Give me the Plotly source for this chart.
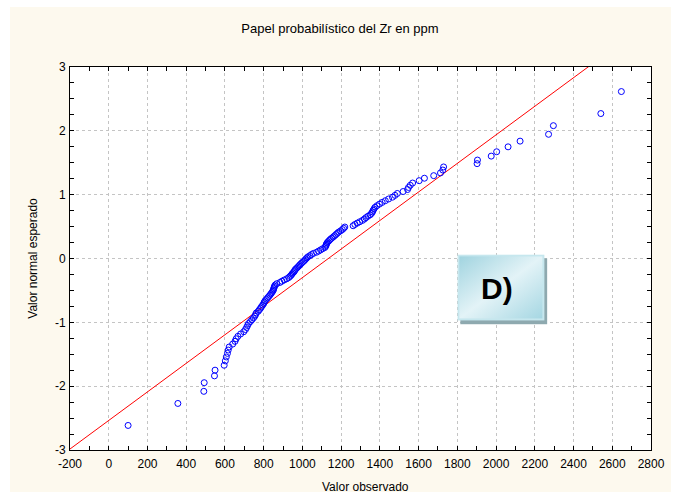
import base64
from statistics import NormalDist

import plotly.graph_objects as go

# Zr concentrations (ppm), sorted ascending
zr_ppm = [
    100, 357, 491, 493, 546, 549, 596, 602, 607, 613,
    617, 622, 640, 652, 658, 667, 681, 697, 706, 712,
    717, 722, 731, 739, 747, 754, 758, 762, 772, 778,
    784, 789, 795, 800, 803, 807, 814, 820, 826, 832,
    837, 842, 847, 850, 852, 854, 856, 860, 868, 884,
    894, 906, 919, 929, 936, 942, 946, 951, 957, 960,
    964, 970, 976, 982, 987, 993, 999, 1006, 1012, 1017,
    1023, 1029, 1039, 1047, 1057, 1073, 1084, 1094, 1104, 1115,
    1120, 1122, 1124, 1127, 1132, 1138, 1144, 1151, 1159, 1166,
    1173, 1180, 1187, 1197, 1206, 1213, 1219, 1262, 1271, 1283,
    1296, 1310, 1320, 1328, 1338, 1350, 1357, 1362, 1365, 1370,
    1375, 1385, 1398, 1412, 1428, 1445, 1465, 1478, 1490, 1520,
    1543, 1548, 1557, 1569, 1603, 1630, 1678, 1713, 1725, 1729,
    1902, 1904, 1975, 2003, 2062, 2124, 2271, 2296, 2541, 2647,
]

# parameters of the reference normal line (mean, standard deviation)
fit_mean = 1134
fit_sd = 447

x_ticks = list(range(-200, 2801, 200))
y_ticks = [-3, -2, -1, 0, 1, 2, 3]

title_text = "Papel probabilístico del Zr en ppm"
x_title = "Valor observado"
y_title = "Valor normal esperado"
panel_label = "D)"

# expected normal scores from the ranks (Blom plotting positions)
n = len(zr_ppm)
nd = NormalDist()
expected = [nd.inv_cdf((i - 0.375) / (n + 0.25)) for i in range(1, n + 1)]

z_line = [-3.2, 3.2]
x_line = [fit_mean + fit_sd * z for z in z_line]

FONT = "Liberation Sans, Arial, sans-serif"
CREAM = "#fdf9ee"

fig = go.Figure()
fig.add_trace(go.Scatter(
    x=x_line, y=z_line, mode="lines",
    line=dict(color="#ff0000", width=1), hoverinfo="skip",
))
fig.add_trace(go.Scatter(
    x=zr_ppm, y=expected, mode="markers",
    marker=dict(symbol="circle-open", size=6, color="#0000ff",
                line=dict(width=1, color="#0000ff")),
    cliponaxis=False,
))

# framed panel label with a soft gradient and drop shadow
svg = (
    "<svg xmlns='http://www.w3.org/2000/svg' width='90' height='70' "
    "viewBox='0 0 90 70' preserveAspectRatio='none'>"
    "<defs><linearGradient id='g' x1='0' y1='0' x2='1' y2='1'>"
    "<stop offset='0' stop-color='#9fd3df'/>"
    "<stop offset='0.5' stop-color='#e3f3f7'/>"
    "<stop offset='1' stop-color='#a4d6e2'/>"
    "</linearGradient></defs>"
    "<rect x='3' y='4' width='87' height='66' fill='#8ea9af'/>"
    "<rect x='1' y='1' width='85' height='64' fill='url(#g)' "
    "stroke='#c6e7ee' stroke-width='2'/>"
    "</svg>"
)
svg_uri = "data:image/svg+xml;base64," + base64.b64encode(svg.encode()).decode()

fig.update_layout(
    width=680, height=500,
    margin=dict(l=70, r=29, t=67, b=50),
    paper_bgcolor="white", plot_bgcolor="white",
    showlegend=False,
    font=dict(family=FONT, size=12, color="black"),
    title=dict(text=title_text, x=0.5, xref="container", xanchor="center",
               y=1 - 28 / 500, yref="container", yanchor="middle",
               font=dict(family=FONT, size=13, color="black")),
    shapes=[
        dict(type="rect", xref="paper", yref="paper", layer="below",
             x0=-0.1033, x1=1.0344, y0=-0.1097, y1=1.1567,
             fillcolor=CREAM, line=dict(width=0)),
        dict(type="rect", xref="paper", yref="paper", layer="below",
             x0=0, x1=1, y0=0, y1=1, fillcolor="white", line=dict(width=0)),
    ],
    images=[dict(source=svg_uri, xref="x", yref="y", x=1800, y=0.064,
                 sizex=465, sizey=1.097, sizing="stretch",
                 xanchor="left", yanchor="top", layer="above")],
    annotations=[
        dict(text="<b>" + panel_label + "</b>", x=2003, y=-0.47,
             xref="x", yref="y", showarrow=False,
             font=dict(family=FONT, size=30, color="black")),
        dict(text=x_title, xref="paper", yref="paper", x=0.508, y=-0.097,
             showarrow=False, yanchor="middle",
             font=dict(family=FONT, size=12, color="black")),
        dict(text=y_title, xref="paper", yref="paper", x=-0.065, y=0.5,
             textangle=-90, showarrow=False, xanchor="center",
             yanchor="middle",
             font=dict(family=FONT, size=12, color="black")),
    ],
)

axis_common = dict(
    showline=True, linecolor="black", linewidth=1, mirror="ticks",
    ticks="inside", ticklen=4, tickcolor="black", tickwidth=1,
    showgrid=True, gridcolor="#c4c4c4", griddash="3px,3px", gridwidth=1,
    zeroline=False, tickfont=dict(family=FONT, size=12, color="black"),
)

fig.update_xaxes(
    range=[-200, 2800], tickmode="array", tickvals=x_ticks,
    ticktext=[str(v) for v in x_ticks], ticklabelstandoff=3,
    minor=dict(dtick=100, tick0=0, ticks="inside", ticklen=4,
               tickcolor="black", showgrid=False),
    **axis_common,
)
fig.update_yaxes(
    range=[-3, 3], tickmode="array", tickvals=y_ticks,
    ticktext=[str(v) for v in y_ticks], ticklabelstandoff=1,
    minor=dict(dtick=0.25, tick0=0, ticks="inside", ticklen=4,
               tickcolor="black", showgrid=False),
    **axis_common,
)

fig.write_html("out.html")
